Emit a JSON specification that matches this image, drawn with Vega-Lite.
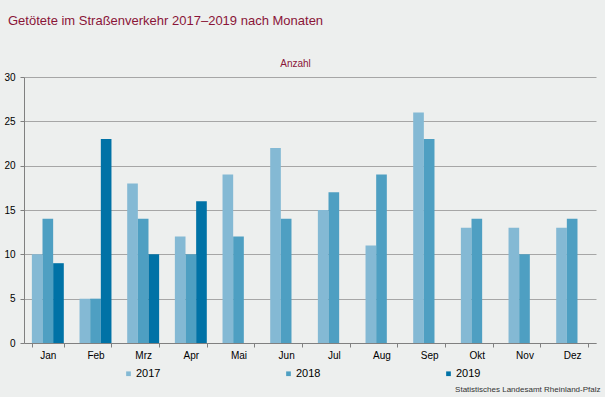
{
  "$schema": "https://vega.github.io/schema/vega-lite/v6.json",
  "autosize": "none",
  "width": 572,
  "height": 266,
  "padding": {"left": 24, "top": 77, "right": 9, "bottom": 54},
  "background": "#EDEFEE",
  "title": {
    "text": "Getötete im Straßenverkehr 2017–2019 nach Monaten",
    "anchor": "start",
    "frame": "group",
    "dx": -16,
    "offset": 30,
    "font": "Liberation Sans",
    "fontSize": 13,
    "fontWeight": "normal",
    "color": "#8A1538"
  },
  "config": {
    "view": {"stroke": null},
    "font": "Liberation Sans"
  },
  "data": {
    "values": [
      {"Monat": "Jan", "Jahr": "2017", "Anzahl": 10},
      {"Monat": "Jan", "Jahr": "2018", "Anzahl": 14},
      {"Monat": "Jan", "Jahr": "2019", "Anzahl": 9},
      {"Monat": "Feb", "Jahr": "2017", "Anzahl": 5},
      {"Monat": "Feb", "Jahr": "2018", "Anzahl": 5},
      {"Monat": "Feb", "Jahr": "2019", "Anzahl": 23},
      {"Monat": "Mrz", "Jahr": "2017", "Anzahl": 18},
      {"Monat": "Mrz", "Jahr": "2018", "Anzahl": 14},
      {"Monat": "Mrz", "Jahr": "2019", "Anzahl": 10},
      {"Monat": "Apr", "Jahr": "2017", "Anzahl": 12},
      {"Monat": "Apr", "Jahr": "2018", "Anzahl": 10},
      {"Monat": "Apr", "Jahr": "2019", "Anzahl": 16},
      {"Monat": "Mai", "Jahr": "2017", "Anzahl": 19},
      {"Monat": "Mai", "Jahr": "2018", "Anzahl": 12},
      {"Monat": "Jun", "Jahr": "2017", "Anzahl": 22},
      {"Monat": "Jun", "Jahr": "2018", "Anzahl": 14},
      {"Monat": "Jul", "Jahr": "2017", "Anzahl": 15},
      {"Monat": "Jul", "Jahr": "2018", "Anzahl": 17},
      {"Monat": "Aug", "Jahr": "2017", "Anzahl": 11},
      {"Monat": "Aug", "Jahr": "2018", "Anzahl": 19},
      {"Monat": "Sep", "Jahr": "2017", "Anzahl": 26},
      {"Monat": "Sep", "Jahr": "2018", "Anzahl": 23},
      {"Monat": "Okt", "Jahr": "2017", "Anzahl": 13},
      {"Monat": "Okt", "Jahr": "2018", "Anzahl": 14},
      {"Monat": "Nov", "Jahr": "2017", "Anzahl": 13},
      {"Monat": "Nov", "Jahr": "2018", "Anzahl": 10},
      {"Monat": "Dez", "Jahr": "2017", "Anzahl": 13},
      {"Monat": "Dez", "Jahr": "2018", "Anzahl": 14}
    ]
  },
  "mark": {"type": "bar"},
  "encoding": {
    "x": {
      "field": "Monat",
      "type": "nominal",
      "sort": ["Jan", "Feb", "Mrz", "Apr", "Mai", "Jun", "Jul", "Aug", "Sep", "Okt", "Nov", "Dez"],
      "scale": {"paddingInner": 0.33, "paddingOuter": 0.165},
      "axis": {
        "title": "Statistisches Landesamt Rheinland-Pfalz",
        "titleFontSize": 8,
        "titleFontWeight": "normal",
        "titleColor": "#333333",
        "titleAnchor": "end",
        "titleAlign": "right",
        "titleBaseline": "alphabetic",
        "titleX": 576,
        "titleY": 48,
        "labelAngle": 0,
        "labelFontSize": 10,
        "labelColor": "#000000",
        "labelPadding": 3,
        "tickBand": "extent",
        "tickSize": 4,
        "tickColor": "#808080",
        "domainColor": "#808080",
        "grid": false
      }
    },
    "xOffset": {
      "field": "Jahr",
      "type": "nominal",
      "scale": {"domain": ["2017", "2018", "2019"], "paddingInner": 0, "paddingOuter": 0}
    },
    "y": {
      "field": "Anzahl",
      "type": "quantitative",
      "scale": {"domain": [0, 30], "nice": false},
      "axis": {
        "title": "Anzahl",
        "titleAngle": 0,
        "titleX": 271,
        "titleY": -11,
        "titleAlign": "center",
        "titleBaseline": "alphabetic",
        "titleFontSize": 10,
        "titleFontWeight": "normal",
        "titleColor": "#8A1538",
        "values": [0, 5, 10, 15, 20, 25, 30],
        "labelFontSize": 10,
        "labelColor": "#000000",
        "labelPadding": 5,
        "tickSize": 4,
        "tickColor": "#808080",
        "domainColor": "#808080",
        "gridColor": "#A6A6A6",
        "gridWidth": 1
      }
    },
    "color": {
      "field": "Jahr",
      "type": "nominal",
      "scale": {"domain": ["2017", "2018", "2019"], "range": ["#84B9D4", "#4E9FC2", "#0072A6"]},
      "legend": {
        "title": null,
        "orient": "none",
        "direction": "horizontal",
        "legendX": 99,
        "legendY": 291,
        "symbolType": "square",
        "symbolSize": 22,
        "symbolStrokeWidth": 0,
        "labelFontSize": 11,
        "labelColor": "#000000",
        "labelOffset": 2,
        "columnPadding": 122
      }
    }
  }
}
